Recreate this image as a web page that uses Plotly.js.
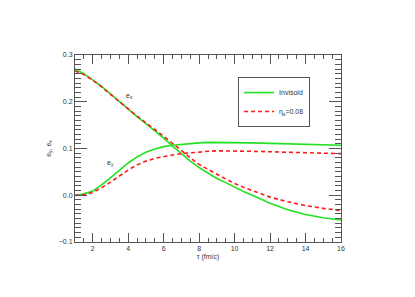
<!DOCTYPE html>
<html><head><meta charset="utf-8">
<script src="https://cdn.plot.ly/plotly-3.0.1.min.js"></script>
<style>html,body{margin:0;padding:0;background:#fff}#c{width:415px;height:297px}</style>
</head><body><div id="c"></div>
<script>
const tau = [1, 1.5, 2, 2.5, 3, 3.5, 4, 4.5, 5, 5.5, 6, 6.5, 7, 7.5, 8, 8.5, 9, 9.5, 10, 10.5, 11, 12, 13, 14, 15, 16];
const exInviscid = [0.270, 0.260, 0.247, 0.233, 0.217, 0.200, 0.184, 0.168, 0.153, 0.138, 0.122, 0.105, 0.088, 0.073, 0.059, 0.047, 0.036, 0.027, 0.017, 0.008, 0.000, -0.017, -0.031, -0.041, -0.048, -0.053];
const eyInviscid = [0.000, 0.003, 0.009, 0.022, 0.037, 0.053, 0.069, 0.082, 0.092, 0.099, 0.104, 0.107, 0.109, 0.111, 0.112, 0.113, 0.113, 0.113, 0.113, 0.112, 0.112, 0.111, 0.110, 0.109, 0.108, 0.107];
const exViscous = [0.266, 0.258, 0.246, 0.232, 0.216, 0.200, 0.185, 0.169, 0.155, 0.141, 0.126, 0.111, 0.095, 0.080, 0.066, 0.055, 0.045, 0.035, 0.025, 0.017, 0.010, -0.004, -0.014, -0.022, -0.028, -0.033];
const eyViscous = [0.000, 0.001, 0.006, 0.016, 0.028, 0.041, 0.054, 0.065, 0.073, 0.079, 0.083, 0.086, 0.089, 0.091, 0.093, 0.094, 0.095, 0.095, 0.095, 0.095, 0.094, 0.093, 0.092, 0.091, 0.090, 0.089];
const xTicks = [2, 4, 6, 8, 10, 12, 14, 16];
const yTicks = [-0.1, 0.0, 0.1, 0.2, 0.3];

const green = '#22e022', red = '#ff1a1a';
const font = {family: 'Liberation Sans, Arial, sans-serif', size: 7, color: '#333'};
const traces = [
  {x: tau, y: exInviscid, mode: 'lines', line: {color: green, width: 1.6}, name: 'Invisoid'},
  {x: tau, y: eyInviscid, mode: 'lines', line: {color: green, width: 1.6}, showlegend: false},
  {x: tau, y: exViscous, mode: 'lines', line: {color: red, width: 1.6, dash: '4px,3px'}, name: 'η<sub>s</sub>=0.08'},
  {x: tau, y: eyViscous, mode: 'lines', line: {color: red, width: 1.6, dash: '4px,3px'}, showlegend: false}
];
const axCommon = {showgrid: false, zeroline: false, showline: true, linecolor: '#555', linewidth: 1,
  mirror: 'ticks', ticks: 'inside', tickcolor: '#555', tickfont: font};
const layout = {
  width: 415, height: 297,
  margin: {l: 74.5, r: 74, t: 55, b: 55},
  paper_bgcolor: '#fff', plot_bgcolor: '#fff',
  font: font,
  xaxis: Object.assign({}, axCommon, {range: [1, 16], tickvals: xTicks, ticktext: xTicks.map(String), ticklen: 9,
    minor: {dtick: 0.5, tick0: 0, ticklen: 4, ticks: 'inside', tickcolor: '#555', showgrid: false},
    title: {text: 'τ (fm/c)', font: font, standoff: 2}}),
  yaxis: Object.assign({}, axCommon, {range: [-0.1, 0.3], tickvals: yTicks, ticktext: yTicks.map(v => v.toFixed(1).replace('-', '−')), ticklen: 12,
    minor: {dtick: 0.01, tick0: 0, ticklen: 6, ticks: 'inside', tickcolor: '#555', showgrid: false},
    title: {text: 'e<sub>y</sub>, e<sub>x</sub>', font: font, standoff: 6}}),
  showlegend: true,
  legend: {x: 0.613, y: 0.882, xanchor: 'left', yanchor: 'top', bgcolor: '#fff', bordercolor: '#555', borderwidth: 1,
    font: font, itemwidth: 30, tracegroupgap: 0},
  annotations: [
    {x: 4.1, y: 0.213, xref: 'x', yref: 'y', text: 'e<sub>x</sub>', showarrow: false, font: font},
    {x: 3.0, y: 0.068, xref: 'x', yref: 'y', text: 'e<sub>y</sub>', showarrow: false, font: font}
  ]
};
Plotly.newPlot('c', traces, layout, {displayModeBar: false, staticPlot: true});
</script></body></html>
